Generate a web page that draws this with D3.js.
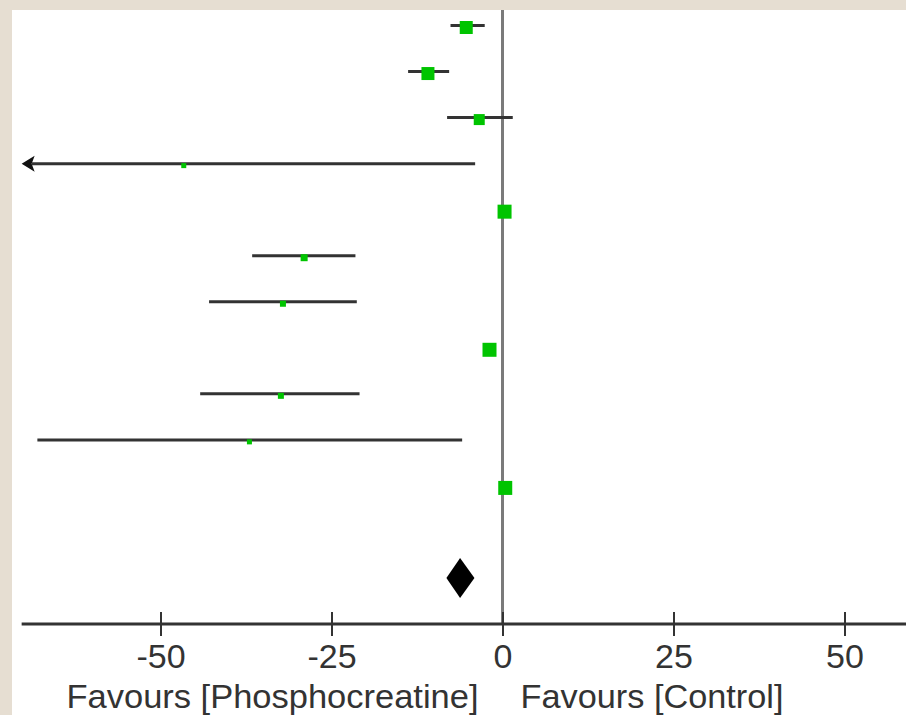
<!DOCTYPE html>
<html>
<head>
<meta charset="utf-8">
<script src="https://cdn.jsdelivr.net/npm/d3@7"></script>
<style>
  html, body { margin: 0; padding: 0; background: #e6ded2; }
  svg { display: block; }
  text { font-family: "Liberation Sans", Arial, sans-serif; fill: #333; }
</style>
</head>
<body>
<div id="chart"></div>
<script>
// mean differences per study
const studies = ["S1", "S2", "S3", "S4", "S5", "S6", "S7", "S8", "S9", "S10", "S11"];
const means   = [-5.3, -10.9, -3.4, -46.6, 0.3, -29.0, -32.1, -1.9, -32.4, -37.0, 0.4];
const lowers  = [-7.6, -13.8, -8.1, -100, -0.6, -36.6, -42.9, -2.8, -44.2, -68.0, -0.4];
const uppers  = [-2.6, -7.8, 1.5, -4.0, 1.1, -21.5, -21.3, -1.0, -20.9, -5.9, 1.2];
const weights = [13, 13, 11, 5, 14, 7, 6, 14, 6, 5, 14];   // square side, as seen

// pooled estimate
const pooled = { mean: -6.2, lower: -8.2, upper: -4.1 };

const tickVals = [-50, -25, 0, 25, 50];
const labelLeft = "Favours [Phosphocreatine]";
const labelRight = "Favours [Control]";

const W = 906, H = 715;
const GREEN = "#00c400";

const svg = d3.select("#chart").append("svg")
    .attr("width", W)
    .attr("height", H);

// white panel inside the beige border
svg.append("rect")
    .attr("x", 12).attr("y", 10)
    .attr("width", W - 12).attr("height", H - 10)
    .attr("fill", "#fff");

const x = d3.scaleLinear().domain([-50, 50]).range([160.5, 844.5]);
const y = d3.scaleLinear().domain([0, 12]).range([25.5, 578]);
const axisY = 624;
const xMin = -70.3;

// zero line
svg.append("line")
    .attr("x1", x(0)).attr("x2", x(0))
    .attr("y1", 10).attr("y2", axisY)
    .attr("stroke", "#7a7a7a")
    .attr("stroke-width", 3);

// confidence intervals
const rows = studies.map((s, i) => ({
    name: s, i: i, mean: means[i], lo: lowers[i], hi: uppers[i], w: weights[i]
}));

svg.append("g").selectAll("line")
    .data(rows)
    .join("line")
    .attr("x1", d => x(Math.max(d.lo, xMin + 1.5)))
    .attr("x2", d => x(d.hi))
    .attr("y1", d => y(d.i))
    .attr("y2", d => y(d.i))
    .attr("stroke", "#333")
    .attr("stroke-width", 3);

// arrow heads where CI runs off the axis
svg.append("g").selectAll("path")
    .data(rows.filter(d => d.lo < xMin))
    .join("path")
    .attr("d", d => {
        const tip = x(xMin), cy = y(d.i);
        return `M${tip},${cy} L${tip + 13},${cy - 8} L${tip + 10},${cy} L${tip + 13},${cy + 8} Z`;
    })
    .attr("fill", "#111");

// study squares
svg.append("g").selectAll("rect")
    .data(rows)
    .join("rect")
    .attr("x", d => x(d.mean) - d.w / 2)
    .attr("y", d => y(d.i) - d.w / 2 + 2)
    .attr("width", d => d.w)
    .attr("height", d => d.w)
    .attr("fill", GREEN);

// pooled diamond
const dy = y(12);
svg.append("path")
    .attr("d", `M${x(pooled.lower)},${dy} L${x(pooled.mean)},${dy - 20} L${x(pooled.upper)},${dy} L${x(pooled.mean)},${dy + 20} Z`)
    .attr("fill", "#000");

// x axis
svg.append("line")
    .attr("x1", x(xMin)).attr("x2", W)
    .attr("y1", axisY).attr("y2", axisY)
    .attr("stroke", "#333")
    .attr("stroke-width", 3);

const axis = svg.append("g")
    .attr("transform", `translate(0, ${axisY})`)
    .call(d3.axisBottom(x).tickValues(tickVals).tickSize(12).tickFormat(d => String(d)));

axis.select(".domain").remove();
axis.selectAll(".tick line")
    .attr("y1", -12)
    .attr("y2", 12)
    .attr("stroke", "#333")
    .attr("stroke-width", 2);
axis.selectAll(".tick text")
    .attr("y", 44)
    .attr("dy", 0)
    .style("font-family", "'Liberation Sans', Arial, sans-serif")
    .style("font-size", "34px")
    .attr("fill", "#333");

// favours labels
svg.append("text")
    .attr("x", x(0) - 24).attr("y", 708)
    .attr("text-anchor", "end")
    .attr("textLength", 412)
    .attr("lengthAdjust", "spacingAndGlyphs")
    .style("font-size", "33px")
    .text(labelLeft);

svg.append("text")
    .attr("x", x(0) + 18).attr("y", 708)
    .attr("text-anchor", "start")
    .attr("textLength", 263)
    .attr("lengthAdjust", "spacingAndGlyphs")
    .style("font-size", "33px")
    .text(labelRight);
</script>
</body>
</html>
